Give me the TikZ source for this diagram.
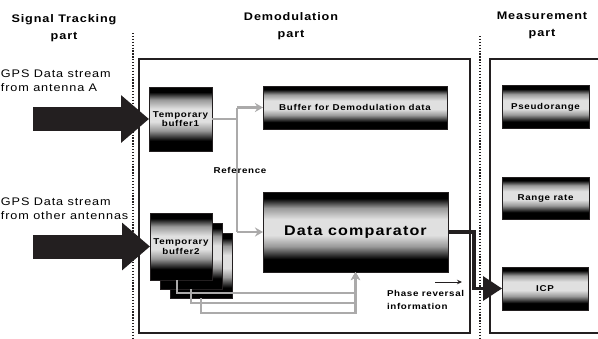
\documentclass[tikz,border=0pt]{standalone}
\usepackage{fontspec}
\setmainfont{Liberation Sans}[FakeStretch=1.15,LetterSpace=8]
\definecolor{K}{cmyk}{0.00,0.00,0.00,1.00}
\definecolor{L}{cmyk}{0.00,0.00,0.00,0.38}
\definecolor{W}{cmyk}{0.00,0.00,0.00,0.00}
\usetikzlibrary{arrows.meta}
\usetikzlibrary{positioning}
\pgfdeclareverticalshading{boxshade}{100bp}{color(0bp)=(K); color(33bp)=(K); color(41bp)=(K!40); color(48bp)=(K!12); color(58bp)=(K!12); color(65bp)=(K!40); color(71bp)=(K); color(100bp)=(K)}
\tikzstyle{base}=[x=1pt, y=-1pt, inner sep=0pt, outer sep=0pt]
\tikzstyle{shadebox}=[draw=K, line width=1pt, shading=boxshade, inner sep=1pt, align=center, font=\bfseries\fontsize{8.5}{9.5}\selectfont]
\tikzstyle{refline}=[draw=L, line width=2.4pt]
\tikzstyle{reftip}=[-{Stealth[length=8pt,width=9pt]}]
\tikzstyle{inflow}=[draw=K, line width=24pt, -{Triangle[length=28pt,width=46pt]}]
\tikzstyle{outflow}=[draw=K, line width=3.5pt, -{Triangle[length=19pt,width=24pt]}]
\tikzstyle{partsep}=[draw=K, line width=1.5pt, dash pattern=on 1.3pt off 1.6pt]
\tikzstyle{frame}=[draw=K, line width=1.4pt]
\tikzstyle{title}=[align=center, font=\bfseries\fontsize{11}{17}\selectfont]
\tikzstyle{streamtext}=[align=left, anchor=west, font=\fontsize{11}{14}\selectfont]
\tikzstyle{smalltext}=[align=left, anchor=west, font=\bfseries\fontsize{8.5}{13}\selectfont]

\begin{document}
\begin{tikzpicture}[base]
    \useasboundingbox [fill=W] (0,0) rectangle (598,338);
    % part titles
    \node [title] (tracktitle) at (64,28) {Signal Tracking\\part};
    \node [title] (demodtitle) at (291,26) {Demodulation\\part};
    \node [title] (measuretitle) at (542,25) {Measurement\\part};
    % frames and separators
    \draw [frame] (139,59) rectangle (470,333);
    \draw [frame] (603,59) -- (490,59) -- (490,333) -- (603,333);
    \draw [partsep] (133,33) -- (133,338);
    \draw [partsep] (480,36) -- (480,338);
    % boxes
    \node [shadebox, minimum width=63pt, minimum height=64pt] (buf1) at (180.5,119) {Temporary\\buffer1};
    \node [shadebox, minimum width=62pt, minimum height=65pt] (buf2c) at (201,265.5) {};
    \node [shadebox, minimum width=62pt, minimum height=66pt] (buf2b) at (191,256) {};
    \node [shadebox, minimum width=62pt, minimum height=67pt] (buf2) at (181,246.5) {Temporary\\buffer2};
    \node [shadebox, minimum width=184pt, minimum height=43pt] (demodbuf) at (355,107.5) {Buffer for Demodulation data};
    \node [shadebox, minimum width=185pt, minimum height=80pt, font=\bfseries\fontsize{14}{16}\selectfont] (comp) at (355.5,232) {Data comparator};
    \node [shadebox, minimum width=87pt, minimum height=43pt] (pseudo) at (545.5,107) {Pseudorange};
    \node [shadebox, minimum width=87pt, minimum height=42pt] (rangerate) at (545.5,198) {Range rate};
    \node [shadebox, minimum width=86pt, minimum height=43pt] (icp) at (545,288.5) {ICP};
    % reference paths
    \coordinate (reftop) at (237,107.5);
    \coordinate (refbot) at (237,232);
    \draw [refline] (buf1.east) -- (buf1.east -| reftop);
    \draw [refline] (reftop) -- (refbot);
    \draw [refline, reftip] (reftop) -- (demodbuf.west);
    \draw [refline, reftip] (refbot) -- (comp.west);
    \draw [refline, reftip] ([xshift=-4pt]buf2.south) -- ++(0,13) -| (comp.south);
    \draw [refline, reftip] (buf2b.south) -- ++(0,14) -| (comp.south);
    \draw [refline, reftip] (buf2c.south) -- ++(0,15) -| (comp.south);
    \node [smalltext, anchor=center] (reflabel) at (240,170) {Reference};
    % data streams
    \coordinate (srcA) at (33,119);
    \coordinate (srcB) at (33,246.5);
    \draw [inflow] (srcA) -- (buf1.west);
    \draw [inflow] (srcB) -- (buf2.west);
    \node [streamtext] (srcAtext) at (1,80.5) {GPS Data stream\\from antenna A};
    \node [streamtext] (srcBtext) at (1,208.5) {GPS Data stream\\from other antennas};
    % phase reversal output
    \draw [outflow] (comp.east) -- ++(26,0) |- (icp.west);
    \node [smalltext] (phase) at (387,300) {Phase reversal\\information};
    \coordinate (phasearrow) at (435,282);
    \draw [K, line width=0.9pt, -{Stealth[length=5pt,width=4.5pt]}] (phasearrow) -- ++(27,0);
\end{tikzpicture}
\end{document}
